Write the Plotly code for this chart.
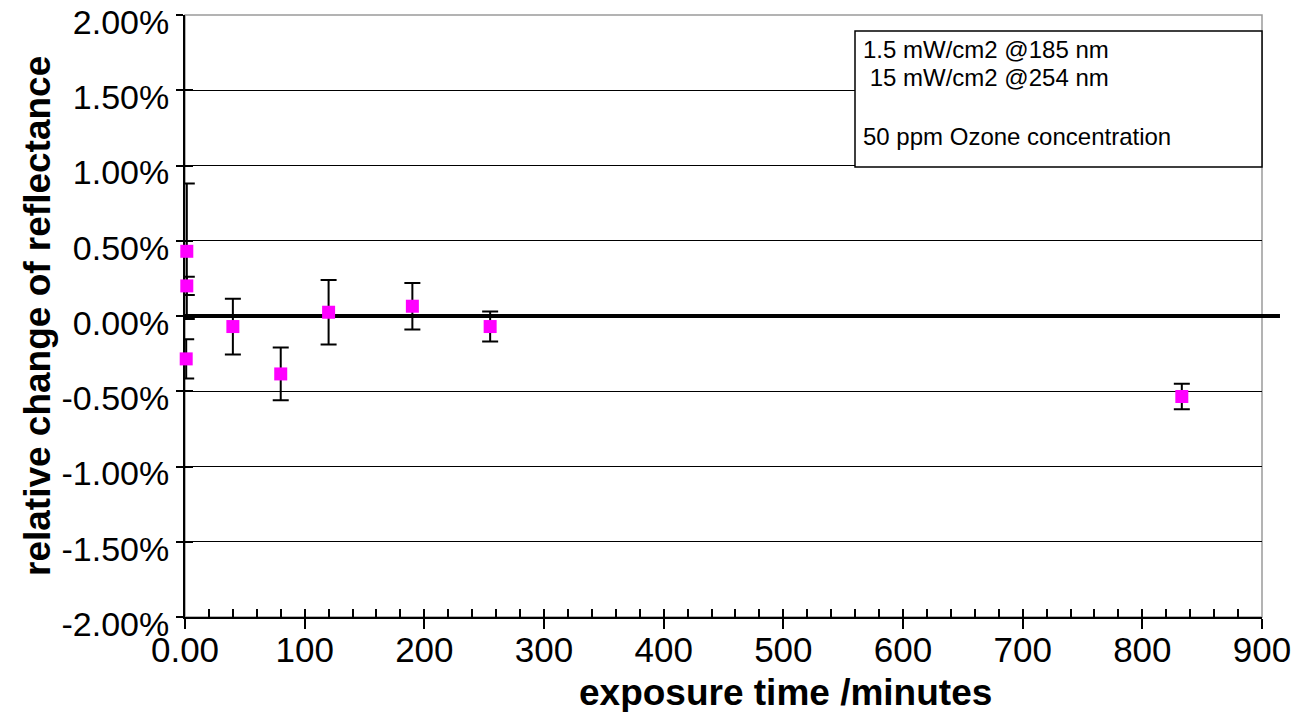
import plotly.graph_objects as go

# ---- data ----
exposure_min = [1.5, 1.5, 1.0, 40, 80, 120, 190, 255, 833]
rel_change_pct = [0.43, 0.20, -0.285, -0.07, -0.385, 0.025, 0.065, -0.07, -0.535]
err_pct = [0.45, 0.06, 0.13, 0.185, 0.175, 0.215, 0.155, 0.10, 0.085]

x_tick_vals = [0, 100, 200, 300, 400, 500, 600, 700, 800, 900]
x_tick_labels = ["0.00", "100", "200", "300", "400", "500", "600", "700", "800", "900"]
y_tick_vals = [-2.0, -1.5, -1.0, -0.5, 0.0, 0.5, 1.0, 1.5, 2.0]
y_tick_labels = ["-2.00%", "-1.50%", "-1.00%", "-0.50%", "0.00%", "0.50%", "1.00%", "1.50%", "2.00%"]

note_lines = ["1.5 mW/cm2 @185 nm", "\u00a015 mW/cm2 @254 nm", "", "50 ppm Ozone concentration"]
x_title = "exposure time /minutes"
y_title = "relative change of reflectance"

FONT = "Liberation Sans, Arial, sans-serif"

fig = go.Figure()
fig.add_trace(go.Scatter(
    x=exposure_min, y=rel_change_pct, mode="markers",
    marker=dict(symbol="square", size=13, color="#FF00FF", line=dict(width=0)),
    error_y=dict(type="data", array=err_pct, visible=True, color="black",
                 thickness=2, width=8),
    cliponaxis=False, showlegend=False,
))
# dummy trace on the overlay axes (used only for crossing tick marks)
fig.add_trace(go.Scatter(x=[None], y=[None], xaxis="x2", yaxis="y2",
                         showlegend=False, hoverinfo="skip"))

fig.update_layout(
    width=1295, height=712,
    margin=dict(l=185, r=33, t=15, b=95, autoexpand=False),
    paper_bgcolor="white", plot_bgcolor="white",
    font=dict(family=FONT, color="black"),
    xaxis=dict(range=[0, 900], tickvals=x_tick_vals, ticktext=x_tick_labels,
               ticks="outside", ticklen=10, tickwidth=1.5, tickcolor="black",
               showline=True, linecolor="black", linewidth=1.5,
               showgrid=False, zeroline=False, layer="below traces",
               automargin=False, ticklabeloverflow="allow",
               ticklabelstandoff=-9,
               tickfont=dict(size=35, family=FONT, color="black")),
    xaxis2=dict(range=[0, 900], overlaying="x", anchor="y2", side="bottom",
                tick0=0, dtick=20, ticks="inside", ticklen=8, tickwidth=1.5,
                tickcolor="black", showticklabels=False, showline=False,
                showgrid=False, zeroline=False, automargin=False),
    yaxis=dict(range=[-2, 2], tickvals=y_tick_vals, ticktext=y_tick_labels,
               ticks="outside", ticklen=7, tickwidth=1.5, tickcolor="black",
               showline=True, linecolor="black", linewidth=2,
               showgrid=True, gridcolor="black", gridwidth=1.2,
               zeroline=False, layer="below traces",
               automargin=False, ticklabeloverflow="allow",
               ticklabelshift=7,
               tickfont=dict(size=34, family=FONT, color="black")),
    yaxis2=dict(range=[-2, 2], overlaying="y", anchor="x2", side="left",
                tick0=0, dtick=0.5, ticks="inside", ticklen=8, tickwidth=1.5,
                tickcolor="black", showticklabels=False, showline=False,
                showgrid=False, zeroline=False, automargin=False),
)

# plot-area frame (grey top and right)
fig.add_shape(type="rect", xref="paper", yref="paper", x0=0, x1=1, y0=0, y1=1,
              line=dict(color="#9a9a9a", width=1.5), layer="below")
# thick zero line extending past the plot area
fig.add_shape(type="line", xref="paper", yref="y", x0=0, x1=1.0167, y0=0, y1=0,
              line=dict(color="black", width=4), layer="below")
# note box
fig.add_shape(type="rect", xref="paper", yref="paper", x0=0.6221, x1=1.0,
              y0=0.7475, y1=0.9734, line=dict(color="black", width=1.5),
              fillcolor="white", layer="above")
# one annotation per note line (line centres 49, 78, 107, 136 px from top)
plot_top, plot_h = 15, 602
for i, line in enumerate(note_lines):
    if not line:
        continue
    cy = 49 + 29 * i
    fig.add_annotation(xref="paper", yref="paper", x=0.6277,
                       y=1 - (cy - plot_top) / plot_h,
                       xanchor="left", yanchor="middle", align="left",
                       showarrow=False, text=line,
                       font=dict(size=24, family=FONT, color="black"))
# axis titles
fig.add_annotation(xref="paper", yref="paper", x=0.558, y=-0.1246,
                   xanchor="center", yanchor="middle", showarrow=False,
                   text="<b>" + x_title + "</b>",
                   font=dict(size=37, family=FONT, color="black"))
fig.add_annotation(xref="paper", yref="paper", x=-0.1374, y=0.5,
                   xanchor="center", yanchor="middle", showarrow=False,
                   textangle=-90, text="<b>" + y_title + "</b>",
                   font=dict(size=37, family=FONT, color="black"))

fig.write_html("out.html")
